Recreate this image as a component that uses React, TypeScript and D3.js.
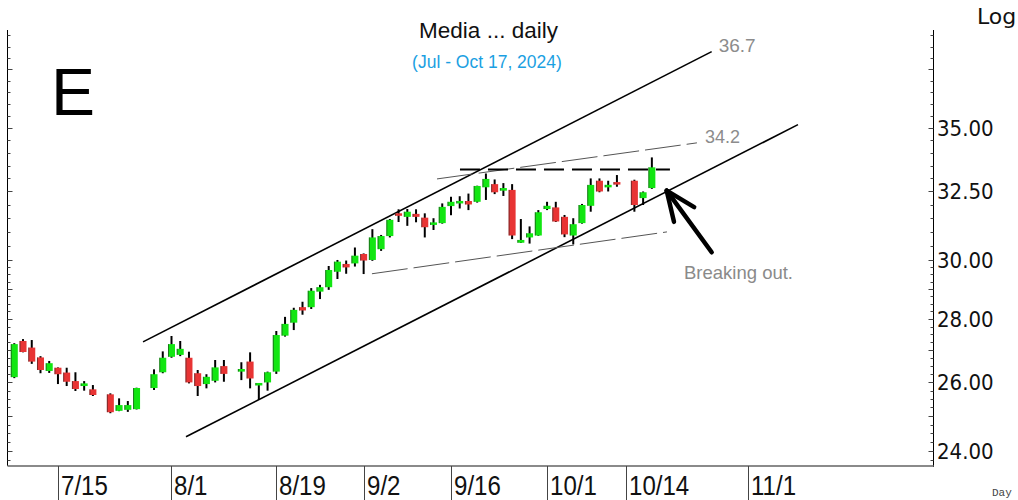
import React from 'react';
import * as d3 from 'd3';

// ---- data ----
const dates = [
  '2024-07-08','2024-07-09','2024-07-10','2024-07-11','2024-07-12',
  '2024-07-15','2024-07-16','2024-07-17','2024-07-18','2024-07-19',
  '2024-07-23','2024-07-24','2024-07-25','2024-07-26',
  '2024-07-30','2024-07-31','2024-08-01','2024-08-02',
  '2024-08-05','2024-08-06','2024-08-07','2024-08-08','2024-08-09',
  '2024-08-13','2024-08-14','2024-08-15','2024-08-16',
  '2024-08-19','2024-08-20','2024-08-21','2024-08-22','2024-08-23',
  '2024-08-26','2024-08-27','2024-08-28','2024-08-29','2024-08-30',
  '2024-09-02','2024-09-03','2024-09-04','2024-09-05','2024-09-06',
  '2024-09-09','2024-09-10','2024-09-11','2024-09-12','2024-09-13',
  '2024-09-16','2024-09-17','2024-09-18','2024-09-19','2024-09-20',
  '2024-09-23','2024-09-24','2024-09-25','2024-09-26','2024-09-27',
  '2024-09-30','2024-10-01','2024-10-02','2024-10-03','2024-10-04',
  '2024-10-07','2024-10-08','2024-10-09','2024-10-10','2024-10-11',
  '2024-10-15','2024-10-16','2024-10-17',
];
const open = [
  26.16,27.29,27.08,26.77,26.35,
  26.45,26.30,26.04,25.89,25.79,
  25.64,25.15,25.18,25.20,
  25.83,26.31,26.79,26.85,
  26.76,26.28,25.95,26.05,26.50,
  26.33,26.64,25.92,26.00,
  26.33,27.46,27.88,28.39,28.39,
  28.91,29.06,29.59,29.86,29.88,
  30.21,30.00,30.38,30.85,31.68,
  31.55,31.66,31.52,31.26,31.32,
  31.95,32.05,32.14,32.11,32.66,
  32.78,32.53,32.56,30.61,30.80,
  30.87,31.84,31.90,31.55,30.87,
  31.32,31.96,32.91,32.66,32.83,
  32.91,32.25,32.63,
];
const high = [
  27.22,27.35,27.32,26.81,26.66,
  26.46,26.45,26.31,26.04,25.92,
  25.67,25.52,25.44,25.84,
  26.40,26.96,27.45,27.29,
  26.95,26.38,26.25,26.69,26.69,
  26.62,26.93,25.98,26.33,
  27.61,28.07,28.37,28.57,29.03,
  29.14,29.79,30.00,29.98,30.44,
  30.23,31.10,30.89,31.47,31.83,
  31.84,31.83,31.68,31.50,32.05,
  32.30,32.32,32.42,32.72,33.19,
  32.96,32.82,32.78,31.47,31.20,
  31.80,32.11,32.11,31.62,31.50,
  32.03,33.00,33.00,32.91,33.13,
  32.95,32.50,33.82,
];
const low = [
  26.13,26.93,26.57,26.28,26.29,
  25.95,25.89,25.74,25.75,25.59,
  25.08,25.14,25.12,25.19,
  25.77,26.28,26.76,26.81,
  25.97,25.59,25.82,26.00,26.02,
  26.07,25.82,25.47,25.75,
  26.26,27.43,27.64,28.14,28.33,
  28.66,28.97,29.34,29.52,29.77,
  29.51,29.97,30.32,30.80,31.36,
  31.22,31.35,30.80,31.07,31.30,
  31.61,31.86,31.80,32.08,32.18,
  32.40,32.33,30.74,30.60,30.58,
  30.86,31.80,31.36,30.81,30.55,
  31.30,31.74,32.47,32.50,32.68,
  31.74,31.99,32.60,
];
const close = [
  27.19,26.94,26.64,26.38,26.59,
  26.25,26.02,25.80,25.97,25.62,
  25.11,25.32,25.32,25.83,
  26.25,26.76,27.19,27.04,
  26.00,25.89,26.17,26.46,26.26,
  26.41,26.12,25.97,26.31,
  27.48,27.84,28.30,28.28,28.94,
  29.06,29.65,29.94,29.74,30.15,
  29.98,30.80,30.85,31.44,31.59,
  31.74,31.55,31.17,31.34,31.92,
  32.11,32.14,32.01,32.71,32.98,
  32.47,32.63,30.87,30.71,30.95,
  31.72,31.96,31.38,30.91,31.28,
  31.99,32.75,32.50,32.75,32.79,
  31.99,32.47,33.43,
];

const xTickDates = ['2024-07-15','2024-08-01','2024-08-19','2024-09-02','2024-09-16','2024-10-01','2024-10-14','2024-11-01'];
const yLabelValues = [24, 26, 28, 30, 32.5, 35];

// trend lines in (trading-day slot, price)
const channelLines = [
  { s1: 14.74, p1: 27.26, s2: 79.85, p2: 38.27, label: '36.7' },
  { s1: 19.66, p1: 24.40, s2: 89.73, p2: 35.14, label: '' },
];
const wedgeLines = [
  { s1: 48.4, p1: 32.98, s2: 78.16, p2: 34.40, label: '34.2' },
  { s1: 40.95, p1: 29.52, s2: 74.73, p2: 31.0, label: '' },
];
const resistance = { s1: 51.03, s2: 75.07, p: 33.35 };
const arrow = { tailS: 79.85, tailP: 30.27, tipS: 74.7, tipP: 32.53, text: 'Breaking out.' };

// ---- scales ----
const parse = d3.timeParse('%Y-%m-%d');
const START = parse('2024-07-08') as Date;
function slotOf(s: string): number {
  const d = parse(s) as Date;
  return d3.timeDay.range(START, d).filter((t) => t.getDay() !== 0 && t.getDay() !== 6).length;
}
const fmtDate = d3.timeFormat('%-m/%-d');

const L = 7.5, R = 933.5, T = 30, B = 466;
const x = d3.scaleLinear().domain([-0.8, 105.19]).range([7.3, 933]);
const y = d3.scaleLog().domain([23.58, 39.25]).range([B, T]);

const minorTicks = [...d3.range(23.75, 30, 0.25), ...d3.range(30, 39.01, 0.5)];
const isMajor = (v: number) => (v < 30 ? Math.abs(v - Math.round(v)) < 1e-6 : Math.abs(v / 2.5 - Math.round(v / 2.5)) < 1e-6);

const GREEN = '#12e612';
const RED = '#e83434';
const SANS = "'Liberation Sans', Arial, sans-serif";

export default function App() {
  const candles = dates.map((d, i) => ({ s: slotOf(d), o: open[i], h: high[i], l: low[i], c: close[i] }));
  const bw = 7;

  const tip = { x: x(arrow.tipS), y: y(arrow.tipP) };
  const tail = { x: x(arrow.tailS), y: y(arrow.tailP) };
  const ang = Math.atan2(tail.y - tip.y, tail.x - tip.x);
  const headLen = 32, headAng = (23 * Math.PI) / 180;
  const barb = (sign: number) => ({
    x: tip.x + headLen * Math.cos(ang + sign * headAng),
    y: tip.y + headLen * Math.sin(ang + sign * headAng),
  });
  const b1 = barb(1), b2 = barb(-1);

  return (
    <svg width={1018} height={500} style={{ position: 'absolute', left: 0, top: 0, background: '#fff' }}>
      <rect x={0} y={0} width={1018} height={500} fill="#fff" />

      {/* axes frame */}
      <line x1={L} x2={L} y1={T} y2={B} stroke="#000" strokeWidth={1} />
      <line x1={R} x2={R} y1={T} y2={B + 1} stroke="#000" strokeWidth={1} />
      <line x1={L} x2={R} y1={B} y2={B} stroke="#8a8a8a" strokeWidth={2} />

      {minorTicks.map((v, i) => {
        const yy = Math.round(y(v)) + 0.5;
        const len = isMajor(v) ? 5 : 3;
        return (
          <g key={'t' + i}>
            <line x1={L} x2={L + len} y1={yy} y2={yy} stroke="#444" strokeWidth={1} />
            <line x1={R - len} x2={R} y1={yy} y2={yy} stroke="#444" strokeWidth={1} />
          </g>
        );
      })}

      {yLabelValues.map((v) => (
        <text key={'yl' + v} x={937} y={y(v) + 8} fontFamily="'DejaVu Sans Condensed', 'DejaVu Sans', sans-serif" fontSize={22} fill="#111">
          {d3.format('.2f')(v)}
        </text>
      ))}

      {xTickDates.map((d) => {
        const xx = Math.round(x(slotOf(d))) + 0.5;
        return (
          <g key={'x' + d}>
            <line x1={xx} x2={xx} y1={B} y2={500} stroke="#444" strokeWidth={1} />
            <text
              transform={`translate(${xx + 2.5},495) scale(0.86,1)`}
              fontFamily={SANS}
              fontSize={28}
              fill="#111"
            >
              {fmtDate(parse(d) as Date)}
            </text>
          </g>
        );
      })}

      {/* channel lines */}
      {channelLines.map((ln, i) => (
        <g key={'c' + i}>
          <line x1={x(ln.s1)} y1={y(ln.p1)} x2={x(ln.s2)} y2={y(ln.p2)} stroke="#000" strokeWidth={1.6} />
          {ln.label && (
            <text x={x(ln.s2) + 7} y={y(ln.p2) + 0.5} fontFamily={SANS} fontSize={19} fill="#8c8c8c">{ln.label}</text>
          )}
        </g>
      ))}
      {wedgeLines.map((ln, i) => (
        <g key={'w' + i}>
          <line x1={x(ln.s1)} y1={y(ln.p1)} x2={x(ln.s2)} y2={y(ln.p2)} stroke="#555" strokeWidth={1} strokeDasharray="36 6" />
          {ln.label && (
            <text x={x(ln.s2) + 8} y={y(ln.p2)} fontFamily={SANS} fontSize={18} fill="#8c8c8c">{ln.label}</text>
          )}
        </g>
      ))}
      <line x1={x(resistance.s1)} x2={x(resistance.s2)} y1={y(resistance.p)} y2={y(resistance.p)} stroke="#000" strokeWidth={2} strokeDasharray="20 8" />

      {/* candles */}
      {candles.map((c, i) => {
        const cx = x(c.s);
        const up = c.c >= c.o;
        let top = y(Math.max(c.o, c.c));
        let bot = y(Math.min(c.o, c.c));
        if (bot - top < 2.5) {
          const m = (top + bot) / 2;
          top = m - 1.25;
          bot = m + 1.25;
        }
        return (
          <g key={'k' + i}>
            <line x1={cx} x2={cx} y1={y(c.h)} y2={y(c.l)} stroke="#000" strokeWidth={2} />
            <rect x={cx - bw / 2} y={top} width={bw} height={bot - top} fill={up ? GREEN : RED} />
            <line x1={cx - bw / 2 + 0.5} x2={cx - bw / 2 + 0.5} y1={top} y2={bot} stroke="#222" strokeWidth={1} opacity={0.55} />
          </g>
        );
      })}

      {/* arrow */}
      <g stroke="#000" strokeWidth={4.5} strokeLinecap="round" fill="none">
        <line x1={tail.x} y1={tail.y} x2={tip.x} y2={tip.y} />
        <line x1={tip.x} y1={tip.y} x2={b1.x} y2={b1.y} />
        <line x1={tip.x} y1={tip.y} x2={b2.x} y2={b2.y} />
      </g>
      <text x={684} y={279} fontFamily={SANS} fontSize={18.5} fill="#8a8a8a">{arrow.text}</text>

      {/* titles */}
      <text x={488.5} y={38} textAnchor="middle" fontFamily={SANS} fontSize={22.5} fill="#111">Media ... daily</text>
      <text x={487} y={68} textAnchor="middle" fontFamily={SANS} fontSize={17.5} fill="#1b9fe2">(Jul - Oct 17, 2024)</text>
      <text x={51} y={115} fontFamily={SANS} fontSize={66} fill="#000">E</text>
      <text x={977} y={24} fontFamily="'DejaVu Sans', sans-serif" fontSize={22} fill="#111">Log</text>
      <text x={992} y={496} fontFamily="'Liberation Mono', 'DejaVu Sans Mono', monospace" fontSize={11} fill="#444">Day</text>
    </svg>
  );
}
